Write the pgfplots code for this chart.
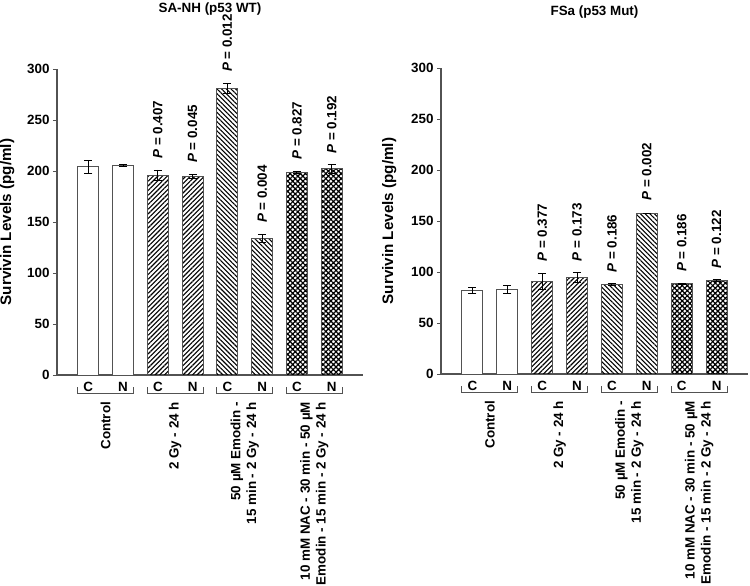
\documentclass[border=0pt]{standalone}
\usepackage{fontspec}
\setmainfont{Liberation Sans}
\usepackage{pgfplots}
\pgfplotsset{compat=1.18}
\usetikzlibrary{patterns.meta}
\definecolor{axgray}{gray}{0.32}
\newcommand{\lab}{\fontsize{13.4}{15.8}\selectfont\bfseries}
\newcommand{\ylab}{\fontsize{15.2}{17}\selectfont\bfseries}
\pgfplotsset{
  panel/.style={
    scale only axis, width=306pt, height=306pt,
    xmin=0.1, xmax=8.9, ymin=0, ymax=300,
    axis x line*=bottom, axis y line*=left,
    axis line style={axgray, line width=1.2pt},
    ytick={0,50,...,300},
    xtick={1,...,8},
    xticklabels={C,N,C,N,C,N,C,N},
    xtick style={draw=none},
    ytick style={axgray, line width=1pt},
    tick align=outside, major tick length=4pt,
    tick label style={font=\lab},
    /pgf/number format/assume math mode=true,
    ylabel={Survivin Levels (pg/ml)},
    label style={font=\ylab},
    clip=false,
  },
  barC/.style={ybar, bar shift=0pt, bar width=21pt, fill=white, draw=axgray, line width=1pt,
    error bars/.cd, y dir=both, y explicit,
    error bar style={black, line width=0.9pt},
    error mark options={rotate=90, mark size=4pt, line width=0.9pt, black}},
  barG/.style={ybar, bar shift=0pt, bar width=21pt, draw=axgray, line width=1pt,
    pattern={Lines[angle=45, distance=3.3pt, line width=1.1pt]}, pattern color=black,
    error bars/.cd, y dir=both, y explicit,
    error bar style={black, line width=0.9pt},
    error mark options={rotate=90, mark size=4pt, line width=0.9pt, black}},
  barE/.style={ybar, bar shift=0pt, bar width=21pt, draw=axgray, line width=1pt,
    pattern={Lines[angle=-45, distance=3.3pt, line width=1.1pt]}, pattern color=black,
    error bars/.cd, y dir=both, y explicit,
    error bar style={black, line width=0.9pt},
    error mark options={rotate=90, mark size=4pt, line width=0.9pt, black}},
  barN/.style={ybar, bar shift=0pt, bar width=21pt, draw=axgray, line width=1pt,
    pattern={Hatch[angle=45, distance=3.6pt, line width=1.2pt]}, pattern color=black,
    error bars/.cd, y dir=both, y explicit,
    error bar style={black, line width=0.9pt},
    error mark options={rotate=90, mark size=4pt, line width=0.9pt, black}},
  plabels/.style={draw=none, mark=none, nodes near coords={\textit{P} = \pgfplotspointmeta},
    point meta=explicit symbolic,
    every node near coord/.style={rotate=90, anchor=west, inner sep=2pt, font=\lab}},
}
\newcommand{\brackets}{%
  \draw[axgray, line width=1pt] ([yshift=-12pt]axis cs:0.7,0) -- ([yshift=-18pt]axis cs:0.7,0) -- ([yshift=-18pt]axis cs:2.3,0) -- ([yshift=-12pt]axis cs:2.3,0);
  \draw[axgray, line width=1pt] ([yshift=-12pt]axis cs:2.7,0) -- ([yshift=-18pt]axis cs:2.7,0) -- ([yshift=-18pt]axis cs:4.3,0) -- ([yshift=-12pt]axis cs:4.3,0);
  \draw[axgray, line width=1pt] ([yshift=-12pt]axis cs:4.7,0) -- ([yshift=-18pt]axis cs:4.7,0) -- ([yshift=-18pt]axis cs:6.3,0) -- ([yshift=-12pt]axis cs:6.3,0);
  \draw[axgray, line width=1pt] ([yshift=-12pt]axis cs:6.7,0) -- ([yshift=-18pt]axis cs:6.7,0) -- ([yshift=-18pt]axis cs:8.3,0) -- ([yshift=-12pt]axis cs:8.3,0);
  \node[rotate=90, anchor=east, align=right, font=\lab] at ([yshift=-23.5pt]axis cs:1.5,0) {Control};
  \node[rotate=90, anchor=east, align=right, font=\lab] at ([yshift=-23.5pt]axis cs:3.5,0) {2 Gy - 24 h};
  \node[rotate=90, anchor=east, align=right, font=\lab] at ([yshift=-23.5pt]axis cs:5.5,0) {50 µM Emodin -\\15 min - 2 Gy - 24 h};
  \node[rotate=90, anchor=east, align=right, font=\lab] at ([yshift=-23.5pt]axis cs:7.5,0) {10 mM NAC - 30 min - 50 µM\\Emodin - 15 min - 2 Gy - 24 h};
}
\begin{document}
\begin{tikzpicture}
\useasboundingbox (0,0) rectangle (750pt,-586pt);
% Left panel
\begin{axis}[panel, at={(57pt,-375pt)}, anchor=south west,
  title={SA-NH (p53 WT)}, title style={font=\lab, at={(axis description cs:0.5,1)}, anchor=base, yshift=51pt},
  ylabel style={at={(axis description cs:-0.163,0.5)}, anchor=center}]
\addplot[barC] coordinates {(1,204) +- (0,6.5) (2,205) +- (0,1)};
\addplot[barG] coordinates {(3,196) +- (0,5) (4,195) +- (0,2)};
\addplot[barE] coordinates {(5,281) +- (0,5) (6,134) +- (0,4)};
\addplot[barN] coordinates {(7,199) +- (0,1) (8,202) +- (0,4)};
\addplot[plabels] coordinates {(3,210)[0.407] (4,206)[0.045] (5,295)[0.012] (6,147)[0.004] (7,209)[0.827] (8,215)[0.192]};
\brackets
\end{axis}
% Right panel
\begin{axis}[panel, width=307pt, at={(441pt,-374pt)}, anchor=south west,
  title={FSa (p53 Mut)}, title style={font=\lab, at={(axis description cs:0.5,1)}, anchor=base, yshift=47pt},
  ylabel style={at={(axis description cs:-0.169,0.5)}, anchor=center}]
\addplot[barC] coordinates {(1,81.5) +- (0,3) (2,82.5) +- (0,4)};
\addplot[barG] coordinates {(3,91) +- (0,8) (4,94.5) +- (0,5)};
\addplot[barE] coordinates {(5,87.5) +- (0,1) (6,157.5) +- (0,0)};
\addplot[barN] coordinates {(7,88.5) +- (0,0.5) (8,91.5) +- (0,1)};
\addplot[plabels] coordinates {(3,108)[0.377] (4,108.5)[0.173] (5,97.5)[0.186] (6,168)[0.002] (7,98)[0.186] (8,101.5)[0.122]};
\brackets
\end{axis}
\end{tikzpicture}
\end{document}
